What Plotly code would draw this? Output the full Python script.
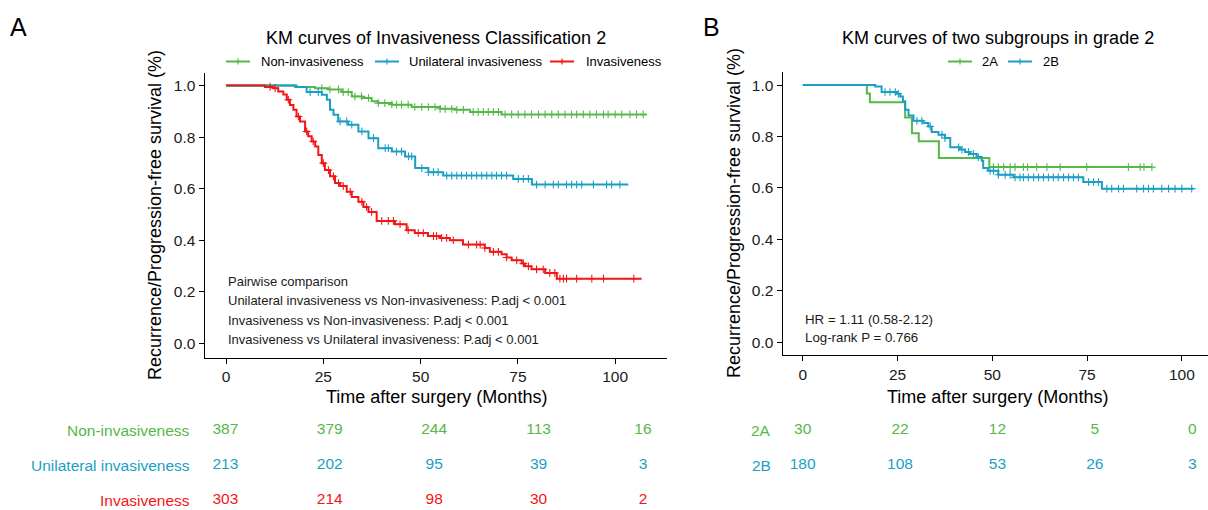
import plotly.graph_objects as go

W, H = 1208, 510
FONT = "Liberation Sans, Arial, sans-serif"
GREEN = "#55B848"
BLUE = "#1A9FC4"
RED = "#F41515"

# ---------------- Panel A data ----------------
groups_a = ["Non-invasiveness", "Unilateral invasiveness", "Invasiveness"]
colors_a = [GREEN, BLUE, RED]

non_t = [0, 17.7, 22.9, 26.3, 29.7, 32.3, 34.9, 37.4, 39.1, 42.6, 47.7, 55.0, 58.8, 62.7, 70.8]
non_s = [1.0, 0.995, 0.99, 0.985, 0.975, 0.958, 0.952, 0.939, 0.932, 0.926, 0.917, 0.91, 0.906, 0.898, 0.888]
non_end = 108.1
non_cens = [24.6, 26.7, 28.9, 30.1, 31.4, 33.1, 34.8, 36.6, 39.1, 40.8, 42.6, 43.8, 45.1, 46.8, 48.5,
            50.3, 52.0, 53.7, 55.0, 56.3, 58.0, 59.3, 61.0, 63.5, 64.8, 66.1, 67.4, 68.7, 70.0, 71.7,
            73.4, 75.1, 76.8, 78.5, 80.3, 82.0, 83.7, 85.4, 87.1, 88.8, 90.1, 91.8, 93.5, 95.2, 97.0,
            98.2, 100.0, 101.7, 103.8, 105.5, 107.2]

uni_t = [0, 18.1, 20.7, 24.6, 25.9, 26.7, 27.6, 28.8, 31.4, 34.0, 36.6, 39.1, 42.6, 46.0, 48.6, 52.0, 55.8, 73.8, 78.6]
uni_s = [1.0, 0.995, 0.975, 0.964, 0.945, 0.906, 0.887, 0.861, 0.848, 0.822, 0.796, 0.757, 0.744, 0.725, 0.68, 0.664, 0.651, 0.638, 0.616]
uni_end = 103.4
uni_cens = [21.6, 23.7, 29.3, 31.0, 32.3, 34.9, 37.9, 40.9, 41.7, 43.8, 45.1, 46.9, 47.7, 50.3, 52.0,
            53.3, 54.5, 56.7, 58.0, 59.3, 60.5, 61.8, 63.1, 64.4, 65.7, 67.0, 68.3, 69.5, 70.8, 72.1,
            75.1, 76.4, 77.7, 79.8, 82.0, 84.1, 85.4, 87.5, 88.8, 90.1, 91.4, 94.4, 97.8, 99.1, 101.2]

inv_t = [0, 10.0, 12.1, 13.4, 14.7, 15.6, 16.4, 17.3, 18.1, 19.0, 20.3, 21.1, 22.0, 22.9, 23.7, 24.6,
         25.4, 26.7, 28.0, 29.3, 31.0, 32.3, 34.0, 35.3, 36.6, 38.7, 43.4, 46.4, 48.5, 51.9, 55.0, 57.5,
         60.9, 66.5, 67.8, 70.8, 72.1, 73.4, 76.0, 76.8, 78.5, 82.0, 85.0]
inv_s = [1.0, 0.995, 0.99, 0.977, 0.965, 0.945, 0.925, 0.906, 0.88, 0.861, 0.822, 0.803, 0.783, 0.764,
         0.731, 0.699, 0.672, 0.648, 0.622, 0.61, 0.588, 0.568, 0.549, 0.529, 0.51, 0.475, 0.462, 0.439,
         0.428, 0.416, 0.409, 0.4, 0.383, 0.37, 0.355, 0.346, 0.333, 0.322, 0.31, 0.299, 0.287, 0.273, 0.251]
inv_end = 106.8
inv_cens = [11.3, 12.6, 16.0, 18.6, 20.7, 22.4, 25.0, 26.3, 27.6, 28.9, 30.1, 31.9, 34.9, 36.1, 37.4,
            40.0, 41.7, 43.0, 44.7, 46.8, 49.4, 50.7, 53.3, 54.1, 55.4, 56.7, 58.4, 62.3, 64.4, 65.3,
            66.5, 68.7, 70.0, 72.1, 74.7, 76.4, 77.7, 79.8, 81.5, 83.2, 84.5, 85.8, 86.7, 87.5, 90.1,
            94.0, 97.0, 104.8]

risk_times = [0, 25, 50, 75, 100]
risk_non = [387, 379, 244, 113, 16]
risk_uni = [213, 202, 95, 39, 3]
risk_inv = [303, 214, 98, 30, 2]

pairwise_lines = ["Pairwise comparison",
                  "Unilateral invasiveness vs Non-invasiveness: P.adj < 0.001",
                  "Invasiveness vs Non-invasiveness: P.adj < 0.001",
                  "Invasiveness vs Unilateral invasiveness: P.adj < 0.001"]

# ---------------- Panel B data ----------------
groups_b = ["2A", "2B"]
colors_b = [GREEN, BLUE]

a2_t = [0, 16.9, 17.7, 27.0, 28.8, 30.6, 35.9, 49.2]
a2_s = [1.0, 0.967, 0.933, 0.874, 0.813, 0.781, 0.716, 0.681]
a2_end = 92.1
a2_cens = [50.3, 51.6, 53.0, 54.7, 56.0, 58.2, 59.3, 61.7, 64.4, 67.9, 74.9, 85.9, 89.0, 90.0, 92.1]

b2_t = [0, 19.1, 20.8, 24.8, 25.7, 26.4, 27.0, 27.9, 29.2, 31.8, 33.1, 34.0, 35.8, 37.5, 38.9, 41.5,
        42.8, 44.1, 45.9, 47.2, 47.6, 48.9, 51.6, 55.6, 74.0, 78.9]
b2_s = [1.0, 0.994, 0.973, 0.966, 0.956, 0.937, 0.904, 0.882, 0.861, 0.852, 0.839, 0.817, 0.807, 0.794,
        0.758, 0.749, 0.74, 0.732, 0.72, 0.706, 0.677, 0.667, 0.651, 0.641, 0.623, 0.597]
b2_end = 103.1
b2_cens = [21.7, 23.0, 24.4, 25.2, 30.1, 31.4, 33.6, 36.7, 37.5, 41.1, 42.0, 43.7, 45.0, 46.3, 49.4,
           50.3, 51.6, 53.4, 54.7, 56.0, 57.3, 58.2, 59.5, 60.9, 62.2, 63.5, 64.8, 66.1, 67.4, 68.8,
           70.1, 71.4, 72.7, 75.4, 76.7, 78.0, 80.2, 81.5, 83.3, 84.6, 88.1, 89.9, 91.2, 92.5, 94.7,
           96.5, 98.2, 100.0, 102.6]

risk_2a = [30, 22, 12, 5, 0]
risk_2b = [180, 108, 53, 26, 3]

stats_b = ["HR = 1.11 (0.58-2.12)", "Log-rank P = 0.766"]


# ---------------- helpers ----------------
def px_x(p):
    return p / W


def px_y(p):
    return 1 - p / H


def surv_at(times, surv, t):
    s = surv[0]
    for ti, si in zip(times, surv):
        if ti <= t:
            s = si
    return s


fig = go.Figure()


def add_km(times, surv, end, cens, color, xa, ya, name):
    xs = list(times) + [end]
    ys = list(surv) + [surv[-1]]
    fig.add_trace(go.Scatter(x=xs, y=ys, mode="lines", line=dict(color=color, width=2, shape="hv"),
                             xaxis=xa, yaxis=ya, name=name, showlegend=False, hoverinfo="skip"))
    cy = [surv_at(times, surv, c) for c in cens]
    fig.add_trace(go.Scatter(x=cens, y=cy, mode="markers",
                             marker=dict(symbol="cross-thin", size=5.5, line=dict(color=color, width=1.1)),
                             xaxis=xa, yaxis=ya, showlegend=False, hoverinfo="skip"))


add_km(non_t, non_s, non_end, non_cens, GREEN, "x", "y", groups_a[0])
add_km(uni_t, uni_s, uni_end, uni_cens, BLUE, "x", "y", groups_a[1])
add_km(inv_t, inv_s, inv_end, inv_cens, RED, "x", "y", groups_a[2])
add_km(a2_t, a2_s, a2_end, a2_cens, GREEN, "x2", "y2", groups_b[0])
add_km(b2_t, b2_s, b2_end, b2_cens, BLUE, "x2", "y2", groups_b[1])

TABLE_FS = 15.5
# risk tables (text traces on hidden axes)
for i, (vals, col) in enumerate(zip([risk_non, risk_uni, risk_inv], colors_a)):
    fig.add_trace(go.Scatter(x=risk_times, y=[i] * len(risk_times), mode="text",
                             text=[str(v) for v in vals], textposition="middle center",
                             textfont=dict(family=FONT, size=TABLE_FS, color=col),
                             xaxis="x3", yaxis="y3", showlegend=False, cliponaxis=False, hoverinfo="skip"))
for i, (vals, col) in enumerate(zip([risk_2a, risk_2b], colors_b)):
    fig.add_trace(go.Scatter(x=risk_times, y=[i] * len(risk_times), mode="text",
                             text=[str(v) for v in vals], textposition="middle center",
                             textfont=dict(family=FONT, size=TABLE_FS, color=col),
                             xaxis="x4", yaxis="y4", showlegend=False, cliponaxis=False, hoverinfo="skip"))

axis_common = dict(showline=True, linecolor="black", linewidth=1.4, ticks="outside", ticklen=5,
                   tickwidth=1.1, tickcolor="black", showgrid=False, zeroline=False,
                   tickfont=dict(family=FONT, size=15.5, color="#1a1a1a"))

hidden = dict(visible=False, showgrid=False, zeroline=False)

fig.update_layout(
    width=W, height=H, margin=dict(l=0, r=0, t=0, b=0),
    paper_bgcolor="white", plot_bgcolor="white", showlegend=False,
    xaxis=dict(domain=[px_x(204.7), px_x(666.9)], range=[-5.5, 113.3], anchor="y",
               tickvals=[0, 25, 50, 75, 100], **axis_common),
    yaxis=dict(domain=[px_y(357.5), px_y(72.7)], range=[-0.055, 1.05], anchor="x",
               tickvals=[0, 0.2, 0.4, 0.6, 0.8, 1.0], tickformat=".1f", **axis_common),
    xaxis2=dict(domain=[px_x(782.7), 1.0], range=[-5.3, 106.9], anchor="y2",
                tickvals=[0, 25, 50, 75, 100], **axis_common),
    yaxis2=dict(domain=[px_y(355), px_y(71.7)], range=[-0.05, 1.052], anchor="x2",
                tickvals=[0, 0.2, 0.4, 0.6, 0.8, 1.0], tickformat=".1f", **axis_common),
    xaxis3=dict(domain=[px_x(204.5), px_x(684.7)], range=[-5, 110], anchor="y3", **hidden),
    yaxis3=dict(domain=[0, px_y(412)], range=[2.286, -0.514], anchor="x3", **hidden),
    xaxis4=dict(domain=[px_x(783.2), px_x(1207.4)], range=[-5, 103.9], anchor="y4", **hidden),
    yaxis4=dict(domain=[0, px_y(412)], range=[2.286, -0.514], anchor="x4", **hidden),
)

ann = []


def text(x, y, s, size, color="black", xanchor="center", angle=0):
    ann.append(dict(x=px_x(x), y=px_y(y), xref="paper", yref="paper", text=s, showarrow=False,
                    xanchor=xanchor, yanchor="middle", textangle=angle,
                    font=dict(family=FONT, size=size, color=color)))


# panel letters
text(18, 27, "A", 25)
text(711, 27, "B", 25)
# titles
text(436, 38, "KM curves of Invasiveness Classification 2", 18)
text(998, 38, "KM curves of two subgroups in grade 2", 18)
# axis titles
text(436, 397, "Time after surgery (Months)", 18)
text(998, 397, "Time after surgery (Months)", 18)
text(155, 215, "Recurrence/Progression-free survival (%)", 18, angle=-90)
text(734, 213, "Recurrence/Progression-free survival (%)", 18, angle=-90)

# legends (manual)
shapes = []


def legend_item(x0, y, label, color, tx):
    shapes.append(dict(type="line", xref="paper", yref="paper", x0=px_x(x0), x1=px_x(x0 + 24),
                       y0=px_y(y), y1=px_y(y), line=dict(color=color, width=2)))
    shapes.append(dict(type="line", xref="paper", yref="paper", x0=px_x(x0 + 12), x1=px_x(x0 + 12),
                       y0=px_y(y - 3), y1=px_y(y + 3), line=dict(color=color, width=1.2)))
    text(tx, y, label, 13, "black", xanchor="left")


legend_item(226, 61.5, groups_a[0], GREEN, 258.5)
legend_item(375, 61.5, groups_a[1], BLUE, 407)
legend_item(550, 61.5, groups_a[2], RED, 584)
legend_item(948, 61.5, groups_b[0], GREEN, 980)
legend_item(1008, 61.5, groups_b[1], BLUE, 1041)

# pairwise text
for i, s in enumerate(pairwise_lines):
    text(226, 281.5 + 19.3 * i, s, 13, "#1a1a1a", xanchor="left")
for i, s in enumerate(stats_b):
    text(803, 319.5 + 18 * i, s, 13.3, "#1a1a1a", xanchor="left")

# risk table row labels
for i, (g, c) in enumerate(zip(groups_a, colors_a)):
    text(192, 430 + 35 * i, g, TABLE_FS, c, xanchor="right")
for i, (g, c) in enumerate(zip(groups_b, colors_b)):
    text(761, 430 + 35 * i, g, TABLE_FS, c)

fig.update_layout(annotations=ann, shapes=shapes)
fig.write_html("out.html")
